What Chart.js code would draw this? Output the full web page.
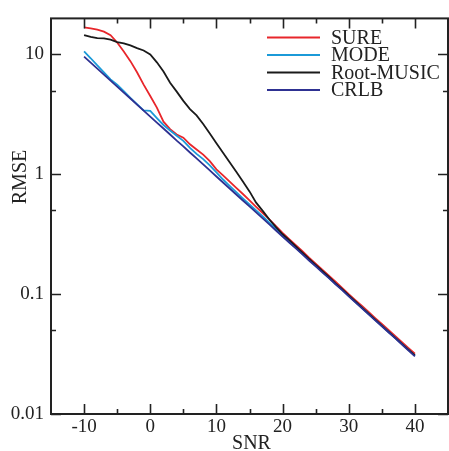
<!DOCTYPE html>
<html>
<head>
<meta charset="utf-8">
<script src="https://cdn.jsdelivr.net/npm/chart.js@4/dist/chart.umd.min.js"></script>
<style>
  body { margin: 0; background: #fff; }
  canvas { display: block; }
</style>
</head>
<body>
<canvas id="rmseChart" width="449" height="451"></canvas>
<script>
// SNR grid (dB)
const snr = [-10, -9, -8, -7, -6, -5, -4, -3, -2, -1, 0, 1, 2, 3, 4, 5, 6, 7, 8, 9,
    10, 11, 12, 13, 14, 15, 16, 17, 18, 19, 20, 21, 22, 23, 24, 25, 26, 27, 28, 29,
    30, 31, 32, 33, 34, 35, 36, 37, 38, 39, 40];

const sure = [16.8, 16.5, 16.1, 15.5, 14.5, 12.6, 10.6, 8.8, 7.1, 5.6, 4.5, 3.6, 2.75, 2.38, 2.15, 2.02, 1.78, 1.61, 1.46, 1.29,
    1.10, 0.98, 0.87, 0.77, 0.685, 0.605, 0.535, 0.475, 0.42, 0.37, 0.325, 0.288, 0.256, 0.228, 0.202, 0.180, 0.160, 0.143, 0.127, 0.113,
    0.100, 0.0893, 0.0796, 0.0710, 0.0632, 0.0564, 0.0502, 0.0448, 0.0399, 0.0356, 0.0318];

const mode = [10.6, 9.3, 8.1, 7.1, 6.2, 5.6, 4.95, 4.35, 3.85, 3.42, 3.38, 2.95, 2.58, 2.32, 2.10, 1.90, 1.66, 1.48, 1.34, 1.19,
    1.04, 0.905, 0.80, 0.71, 0.63, 0.56, 0.50, 0.445, 0.395, 0.352, 0.305, 0.273, 0.243, 0.217, 0.193, 0.172, 0.154, 0.137, 0.122, 0.109,
    0.0968, 0.0864, 0.0770, 0.0686, 0.0611, 0.0545, 0.0486, 0.0433, 0.0386, 0.0344, 0.0307];

const rootMusic = [14.5, 14.0, 13.7, 13.6, 13.3, 12.7, 12.4, 11.9, 11.3, 10.8, 10.0, 8.6, 7.2, 5.8, 4.9, 4.1, 3.5, 3.1, 2.63, 2.19,
    1.82, 1.51, 1.26, 1.05, 0.87, 0.72, 0.58, 0.495, 0.42, 0.363, 0.316, 0.282, 0.250, 0.222, 0.197, 0.175, 0.156, 0.139, 0.123, 0.110,
    0.0975, 0.0868, 0.0773, 0.0688, 0.0613, 0.0547, 0.0487, 0.0434, 0.0387, 0.0345, 0.0308];

const crlb = [9.59, 8.55, 7.62, 6.79, 6.05, 5.40, 4.81, 4.29, 3.82, 3.40, 3.03, 2.70, 2.41, 2.15, 1.91, 1.71, 1.52, 1.36, 1.21, 1.08,
    0.959, 0.855, 0.762, 0.679, 0.605, 0.540, 0.481, 0.429, 0.382, 0.340, 0.303, 0.270, 0.241, 0.215, 0.191, 0.171, 0.152, 0.136, 0.121, 0.108,
    0.0959, 0.0855, 0.0762, 0.0679, 0.0605, 0.0540, 0.0481, 0.0429, 0.0382, 0.0340, 0.0303];

const seriesNames = ['SURE', 'MODE', 'Root-MUSIC', 'CRLB'];
const seriesColors = ['#e8262b', '#1b9ad8', '#1a1a1a', '#2e3192'];

const xMajor = [-10, 0, 10, 20, 30, 40];
const xMinor = [-5, 5, 15, 25, 35];
const yMajor = [0.01, 0.1, 1, 10];
const yMinor = [0.05, 0.5, 5];
const yLabels = { 0.01: '0.01', 0.1: '0.1', 1: '1', 10: '10' };

const serif = '"Liberation Serif", "Times New Roman", serif';
const ink = '#222';

const toPoints = vals => snr.map((s, i) => ({ x: s, y: vals[i] }));

// frame, inward ticks on all sides, axis titles and legend
const framePlugin = {
    id: 'frame',
    afterDraw(chart) {
        const { ctx, chartArea: a, scales: { x, y } } = chart;
        ctx.save();
        ctx.strokeStyle = ink;
        ctx.lineWidth = 2;
        ctx.strokeRect(a.left, a.top, a.right - a.left, a.bottom - a.top);

        ctx.lineWidth = 1.6;
        ctx.beginPath();
        const xt = (v, len) => {
            const px = Math.round(x.getPixelForValue(v)) + 0.5;
            ctx.moveTo(px, a.bottom); ctx.lineTo(px, a.bottom - len);
            ctx.moveTo(px, a.top); ctx.lineTo(px, a.top + len);
        };
        const yt = (v, len) => {
            const py = Math.round(y.getPixelForValue(v)) + 0.5;
            ctx.moveTo(a.left, py); ctx.lineTo(a.left + len, py);
            ctx.moveTo(a.right, py); ctx.lineTo(a.right - len, py);
        };
        xMajor.forEach(v => xt(v, 10));
        xMinor.forEach(v => xt(v, 5));
        yMajor.forEach(v => yt(v, 10));
        yMinor.forEach(v => yt(v, 5));
        ctx.stroke();

        // axis titles
        ctx.fillStyle = ink;
        ctx.font = '20px ' + serif;
        ctx.textAlign = 'center';
        ctx.textBaseline = 'alphabetic';
        ctx.fillText('SNR', (a.left + a.right) / 2 + 2, 449);
        ctx.save();
        ctx.translate(26, 177);
        ctx.rotate(-Math.PI / 2);
        ctx.fillText('RMSE', 0, 0);
        ctx.restore();

        // legend
        ctx.textAlign = 'left';
        ctx.textBaseline = 'middle';
        ctx.lineWidth = 2;
        seriesNames.forEach((name, i) => {
            const ly = 37.5 + i * 17.5;
            ctx.strokeStyle = seriesColors[i];
            ctx.beginPath();
            ctx.moveTo(267, ly); ctx.lineTo(320, ly);
            ctx.stroke();
            ctx.fillText(name, 331, ly + 1);
        });
        ctx.restore();
    }
};

new Chart(document.getElementById('rmseChart').getContext('2d'), {
    type: 'line',
    data: {
        datasets: [sure, mode, rootMusic, crlb].map((vals, i) => ({
            label: seriesNames[i],
            data: toPoints(vals),
            borderColor: seriesColors[i],
            borderWidth: 1.8,
            pointRadius: 0,
            fill: false,
            tension: 0
        })).reverse()
    },
    options: {
        responsive: false,
        animation: false,
        devicePixelRatio: 1,
        layout: { padding: { top: 15, right: 1, left: 0, bottom: 0 } },
        plugins: { legend: { display: false }, tooltip: { enabled: false } },
        scales: {
            x: {
                type: 'linear',
                min: -15,
                max: 45,
                afterFit: s => { s.height = 37; },
                afterBuildTicks: s => { s.ticks = xMajor.map(v => ({ value: v })); },
                grid: { display: false, drawTicks: false },
                border: { display: false },
                ticks: {
                    autoSkip: false,
                    maxRotation: 0,
                    padding: 2,
                    color: ink,
                    font: { family: serif, size: 19 },
                    callback: v => String(v)
                }
            },
            y: {
                type: 'logarithmic',
                min: 0.01,
                max: 20,
                afterFit: s => { s.width = 51; },
                afterBuildTicks: s => { s.ticks = yMajor.map(v => ({ value: v })); },
                grid: { display: false, drawTicks: false },
                border: { display: false },
                ticks: {
                    autoSkip: false,
                    padding: 7,
                    color: ink,
                    font: { family: serif, size: 19 },
                    callback: v => yLabels[v] || ''
                }
            }
        }
    },
    plugins: [framePlugin]
});
</script>
</body>
</html>
